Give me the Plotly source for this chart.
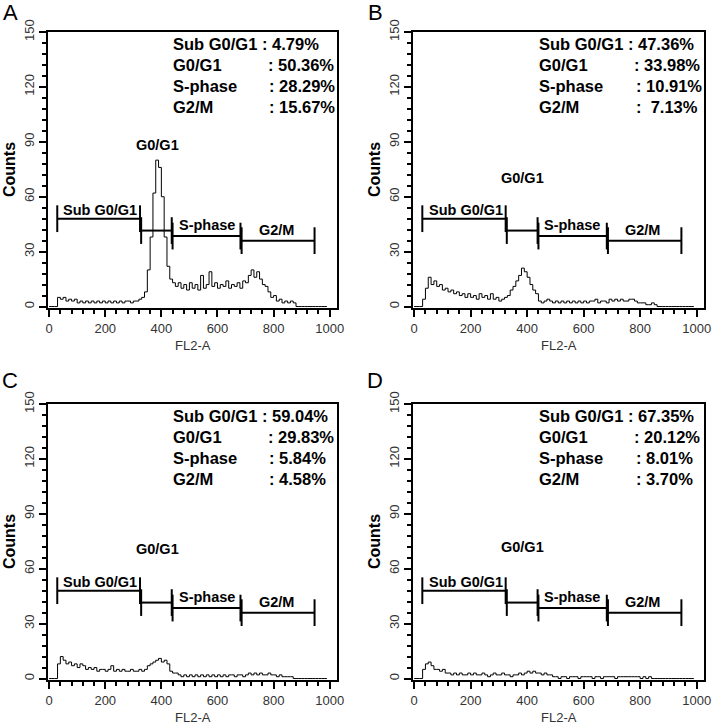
import plotly.graph_objects as go
from plotly.subplots import make_subplots

# histogram bins (FL2-A channel, left edge of each bin)
bin_x = list(range(0, 1000, 10))

counts_a = [0, 0, 0, 5, 4, 5, 3, 4, 3, 4,
            2, 3, 2, 3, 2, 3, 2, 3, 2, 3,
            2, 3, 2, 3, 2, 3, 2, 3, 3, 2,
            3, 3, 4, 5, 8, 20, 38, 62, 80, 76,
            60, 38, 22, 15, 13, 11, 13, 10, 12, 9,
            13, 10, 12, 9, 17, 10, 12, 19, 11, 13,
            10, 12, 11, 14, 10, 12, 11, 13, 10, 14,
            13, 17, 20, 16, 19, 15, 12, 11, 8, 5,
            6, 3, 4, 2, 3, 2, 3, 2, 0, 0,
            0, 0, 0, 0, 0, 0, 0, 0, 0, 0]

counts_b = [0, 0, 0, 4, 10, 16, 12, 14, 11, 12,
            9, 10, 8, 9, 7, 8, 6, 7, 5, 7,
            5, 6, 4, 7, 5, 6, 4, 7, 4, 5,
            3, 4, 5, 6, 9, 11, 14, 17, 21, 19,
            16, 12, 9, 7, 3, 2, 3, 4, 3, 2,
            3, 2, 3, 2, 3, 2, 3, 2, 3, 2,
            3, 2, 3, 3, 4, 2, 3, 3, 2, 4,
            3, 4, 3, 4, 3, 3, 4, 4, 3, 2,
            2, 2, 1, 1, 2, 1, 0, 0, 0, 0,
            0, 0, 0, 0, 0, 0, 0, 0, 0, 0]

counts_c = [0, 0, 0, 8, 12, 10, 8, 9, 7, 8,
            6, 8, 7, 5, 6, 5, 6, 4, 5, 5,
            4, 5, 7, 4, 5, 4, 5, 4, 4, 5,
            4, 4, 5, 4, 5, 7, 8, 9, 10, 11,
            9, 10, 8, 4, 3, 3, 2, 1, 2, 1,
            2, 1, 2, 1, 2, 1, 2, 1, 2, 1,
            2, 1, 2, 1, 2, 2, 1, 2, 2, 1,
            2, 3, 2, 3, 2, 3, 2, 2, 3, 2,
            2, 1, 2, 1, 1, 1, 1, 0, 0, 0,
            0, 0, 0, 0, 0, 0, 0, 0, 0, 0]

counts_d = [0, 0, 0, 5, 8, 9, 7, 5, 5, 4,
            5, 3, 3, 2, 3, 2, 3, 2, 2, 3,
            2, 3, 2, 2, 3, 2, 1, 2, 3, 2,
            2, 3, 2, 2, 1, 2, 2, 3, 2, 3,
            4, 3, 4, 3, 3, 2, 3, 2, 2, 1,
            1, 0, 1, 1, 0, 1, 1, 1, 0, 1,
            1, 1, 1, 0, 1, 1, 0, 1, 1, 1,
            1, 0, 1, 1, 1, 1, 1, 1, 1, 1,
            0, 1, 0, 1, 0, 0, 0, 0, 0, 0,
            0, 0, 0, 0, 0, 0, 0, 0, 0, 0]

panel_letters = ["A", "B", "C", "D"]

# cell cycle percentages per panel
sub_g0g1 = [4.79, 47.36, 59.04, 67.35]
g0g1 = [50.36, 33.98, 29.83, 20.12]
s_phase = [28.29, 10.91, 5.84, 8.01]
g2m = [15.67, 7.13, 4.58, 3.70]

# gate markers
gate_names = ["Sub G0/G1", "G0/G1", "S-phase", "G2/M"]
gate_start = [29, 328, 440, 686]
gate_end = [324, 437, 682, 946]
gate_level = [48, 41.5, 38.5, 36]

FONT = "Liberation Sans, Arial, Helvetica, sans-serif"
W, H = 714, 724

# panel frames in pixels: (left, right, top, bottom)
frames = [(48, 337, 32, 308), (413, 704, 32, 308),
          (48, 337, 404, 680), (413, 704, 404, 680)]
g01_label_y = [88, 70, 71, 72]
letter_y_px = [12.5, 12.5, 380, 380]

fig = make_subplots(rows=2, cols=2)
all_counts = [counts_a, counts_b, counts_c, counts_d]

for i in range(4):
    r, c = i // 2 + 1, i % 2 + 1
    fig.add_trace(go.Scatter(x=bin_x, y=all_counts[i], mode="lines",
                             line=dict(color="black", width=1, shape="hv"),
                             hoverinfo="skip"), row=r, col=c)

for i in range(4):
    left, right, top, bottom = frames[i]
    ax = "" if i == 0 else str(i + 1)
    xa, ya = "x" + ax, "y" + ax
    fig.layout["xaxis" + ax].domain = [left / W, right / W]
    fig.layout["yaxis" + ax].domain = [(H - bottom) / H, (H - top) / H]

    # gates
    for k in range(4):
        fig.add_shape(type="line", xref=xa, yref=ya,
                      x0=gate_start[k], x1=gate_end[k],
                      y0=gate_level[k], y1=gate_level[k],
                      line=dict(color="black", width=2))
        for xe in (gate_start[k], gate_end[k]):
            fig.add_shape(type="line", xref=xa, yref=ya,
                          x0=xe, x1=xe,
                          y0=gate_level[k] - 7.3, y1=gate_level[k] + 7.3,
                          line=dict(color="black", width=2))

    gate_lab = dict(font=dict(family=FONT, size=14.5, color="black"),
                    showarrow=False, xref=xa, yref=ya, yanchor="middle")
    fig.add_annotation(x=44, y=52.7, text="<b>Sub G0/G1</b>", xanchor="left", **gate_lab)
    fig.add_annotation(x=454, y=44.6, text="<b>S-phase</b>", xanchor="left", **gate_lab)
    fig.add_annotation(x=810, y=41.8, text="<b>G2/M</b>", xanchor="center", **gate_lab)
    fig.add_annotation(x=385, y=g01_label_y[i], text="<b>G0/G1</b>", xanchor="center", **gate_lab)

    # statistics block
    stat = dict(font=dict(family=FONT, size=16.5, color="black"),
                showarrow=False, xref=xa, yref=ya, xanchor="left", yanchor="middle")
    fig.add_annotation(x=434, y=143.5, text=f"<b>Sub G0/G1 : {sub_g0g1[i]:.2f}%</b>", **stat)
    rows = [("G0/G1", g0g1[i], 131.8, 772), ("S-phase", s_phase[i], 120.4, 778),
            ("G2/M", g2m[i], 109.0, 778)]
    for name, val, yy, xv in rows:
        pad = "\u00a0" if (i == 1 and name == "G2/M") else ""
        fig.add_annotation(x=434, y=yy, text=f"<b>{name}</b>", **stat)
        fig.add_annotation(x=xv, y=yy, text=f"<b>:{pad} {val:.2f}%</b>", **stat)

    # axis titles and panel letter
    cx = (left + right) / 2
    cy = (top + bottom) / 2
    common = dict(xref="paper", yref="paper", showarrow=False,
                  xanchor="center", yanchor="middle")
    fig.add_annotation(x=cx / W, y=1 - (bottom + 37) / H, text="FL2-A",
                       font=dict(family=FONT, size=13, color="#333"), **common)
    fig.add_annotation(x=(left - 39) / W, y=1 - cy / H, text="<b>Counts</b>",
                       textangle=-90, font=dict(family=FONT, size=16, color="black"), **common)
    fig.add_annotation(x=(left - 38) / W, y=1 - letter_y_px[i] / H, text=panel_letters[i],
                       font=dict(family=FONT, size=22, color="black"), **common)

fig.update_xaxes(range=[-4, 1026], tickmode="linear", tick0=0, dtick=200,
                 ticks="outside", ticklen=7, tickwidth=1.5, tickcolor="black",
                 minor=dict(dtick=40, ticks="outside", ticklen=4, tickwidth=1.5, tickcolor="black"),
                 showline=True, linewidth=2, linecolor="black", mirror=True,
                 showgrid=False, zeroline=False, automargin=False,
                 tickfont=dict(family=FONT, size=13, color="#333"))
fig.update_yaxes(range=[-0.8, 150], tickmode="linear", tick0=0, dtick=30,
                 ticks="outside", ticklen=7, tickwidth=1.5, tickcolor="black",
                 minor=dict(dtick=6, ticks="outside", ticklen=4, tickwidth=1.5, tickcolor="black"),
                 showline=True, linewidth=2, linecolor="black", mirror=True,
                 showgrid=False, zeroline=False, tickangle=-90, automargin=False,
                 tickfont=dict(family=FONT, size=13, color="#333"))

fig.update_layout(width=W, height=H, margin=dict(l=0, r=0, t=0, b=0, autoexpand=False),
                  paper_bgcolor="white", plot_bgcolor="white", showlegend=False)

fig.write_html("out.html", config={"displayModeBar": False},
               post_script="document.body.style.margin='0px';")
